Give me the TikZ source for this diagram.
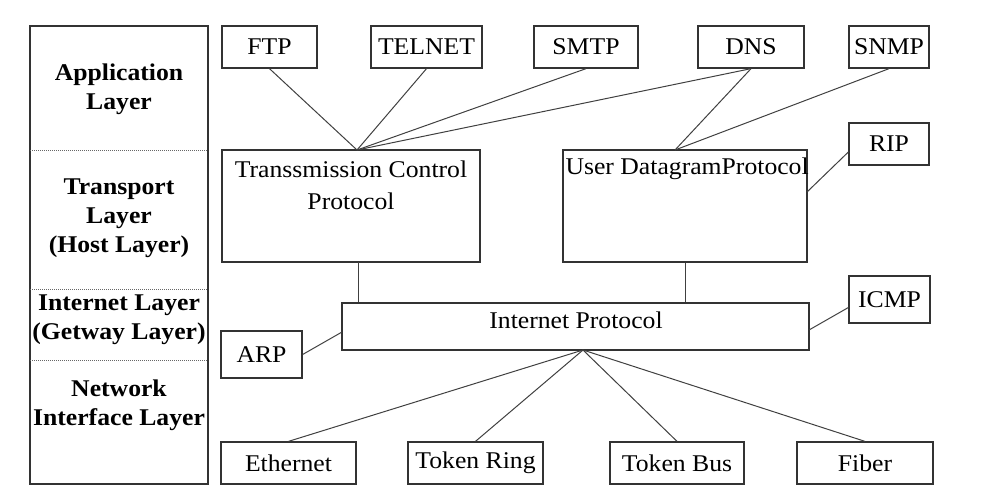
\documentclass[tikz,border=0pt]{standalone}
\usepackage{fontspec}
\setmainfont[FakeStretch=1.07]{Liberation Serif}
\usepackage{tikz}

\begin{document}
\begin{tikzpicture}[x=1pt,y=-1pt,
  proto/.style={draw=black!80, line width=1.3pt, fill=white, minimum height=42,
    font=\fontsize{24}{29}\selectfont, inner sep=2pt},
  layer/.style={align=center, font=\fontsize{24}{29}\selectfont\bfseries},
  link/.style={draw=black!75, line width=1pt}]

\useasboundingbox (0,0) rectangle (984,499);

% Layer column
\draw[draw=black!80, line width=1.3pt] (30,26) rectangle (208,484);
\draw[black!60, densely dotted, line width=1pt] (30,150) -- (208,150);
\draw[black!60, densely dotted, line width=1pt] (30,289) -- (208,289);
\draw[black!60, densely dotted, line width=1pt] (30,360) -- (208,360);

\node[layer] (applayer) at (119,89) {Application\\Layer};
\node[layer] (translayer) at (119,218) {Transport\\Layer\\(Host Layer)};
\node[layer] (netlayer) at (119,320) {Internet Layer\\(Getway Layer)};
\node[layer] (ifacelayer) at (119,405) {Network\\Interface Layer};

% Application protocols
\node[proto, minimum width=95] (ftp) at (269.5,47) {FTP};
\node[proto, minimum width=111] (telnet) at (426.5,47) {TELNET};
\node[proto, minimum width=104] (smtp) at (586,47) {SMTP};
\node[proto, minimum width=106] (dns) at (751,47) {DNS};
\node[proto, minimum width=80] (snmp) at (889,47) {SNMP};
\node[proto, minimum width=80] (rip) at (889,144) {RIP};

% Transport protocols
\node[proto, minimum width=258, minimum height=112] (tcp) at (351,206) {};
\node[align=center, anchor=north, font=\fontsize{24}{32}\selectfont, inner sep=2pt]
  (tcptext) at ([yshift=-9pt]tcp.north) {Transsmission Control\\Protocol};
\node[proto, minimum width=244, minimum height=112] (udp) at (685,206) {};
\node[anchor=north west, font=\fontsize{24}{29}\selectfont, inner sep=2pt]
  (udptext) at ([shift={(1pt,-6pt)}]udp.north west) {User DatagramProtocol};

% Internet layer
\node[proto, minimum width=467, minimum height=47] (ip) at (575.5,326.5) {};
\node[font=\fontsize{24}{29}\selectfont, inner sep=0pt] (iptext) at (576,320) {Internet Protocol};
\node[proto, minimum width=81, minimum height=47] (arp) at (261.5,354.5) {ARP};
\node[proto, minimum width=81, minimum height=47] (icmp) at (889.5,299.5) {ICMP};

% Network interfaces
\node[proto, minimum width=135] (eth) at (288.5,463) {Ethernet};
\node[proto, minimum width=135] (tring) at (475.5,463) {Token Ring};
\node[proto, minimum width=134] (tbus) at (677,463) {Token Bus};
\node[proto, minimum width=136] (fiber) at (865,463) {Fiber};

% Joints
\coordinate (tcpin) at (357,150);
\coordinate (udpin) at (675,150);
\coordinate (udpright) at (807,192);
\coordinate (tcpdown) at (358,262);
\coordinate (ipleft) at (342,332);
\coordinate (ipright) at (809,330);
\coordinate (ipout) at (583,350);

% Links
\draw[link] (ftp.south) -- (tcpin);
\draw[link] (telnet.south) -- (tcpin);
\draw[link] (smtp.south) -- (tcpin);
\draw[link] (dns.south) -- (tcpin);
\draw[link] (dns.south) -- (udpin);
\draw[link] (snmp.south) -- (udpin);
\draw[link] ([yshift=-8pt]rip.west) -- (udpright);

\draw[link] (tcpdown) -- (tcpdown |- ip.north);
\draw[link] (udp.south) -- (udp.south |- ip.north);
\draw[link] (arp.east) -- (ipleft);
\draw[link] ([yshift=-8pt]icmp.west) -- (ipright);

\draw[link] (ipout) -- (eth.north);
\draw[link] (ipout) -- (tring.north);
\draw[link] (ipout) -- (tbus.north);
\draw[link] (ipout) -- (fiber.north);

\end{tikzpicture}
\end{document}
